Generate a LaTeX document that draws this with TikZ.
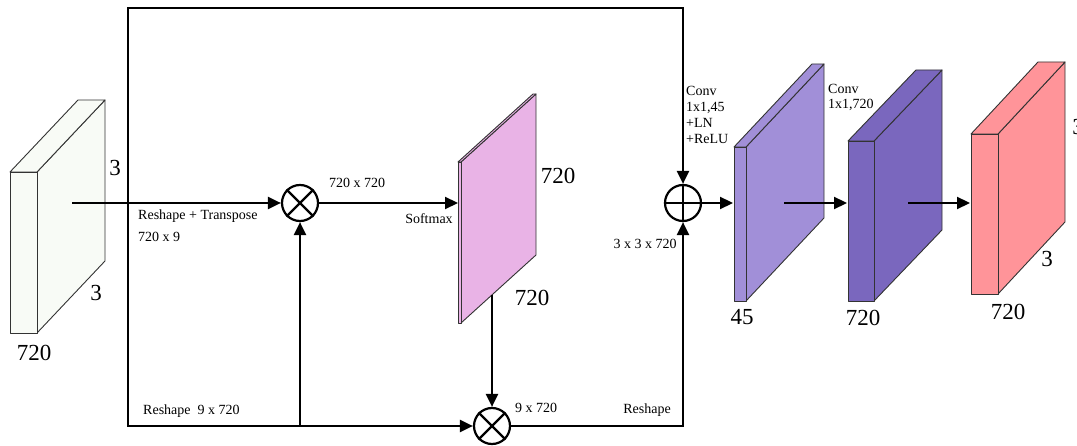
\documentclass[tikz,border=0pt]{standalone}
\usepackage{fontspec}
\setmainfont{Liberation Serif}
\usetikzlibrary{arrows.meta}
\definecolor{inbox}{RGB}{248,251,246}
\definecolor{pinkp}{RGB}{233,179,230}
\definecolor{purpA}{RGB}{161,143,216}
\definecolor{purpB}{RGB}{122,103,190}
\definecolor{redc}{RGB}{255,148,153}
\newcommand\prism[8]{%
  \filldraw[facel,fill=#8] ({#2+#4},#3) -- ++(#6,#7) -- ++(0,#5) -- ++(-#6,-#7) -- cycle;
  \filldraw[facel,fill=#8] (#2,#3) -- ++(#4,0) -- ++(#6,#7) -- ++(-#4,0) -- cycle;
  \node[facel,draw,fill=#8,inner sep=0pt,minimum width=#4pt,minimum height=#5pt,anchor=north west] (#1) at (#2,#3) {};
}
\tikzset{
  facel/.style={draw=black!80,line width=0.9pt,line join=round},
  wire/.style={line width=2.2pt,line join=miter},
  arr/.style={wire,-{Triangle[length=13pt,width=12pt]}},
  op/.style={circle,draw,line width=2.2pt,minimum size=36pt,inner sep=0pt},
  small/.style={font=\fontsize{14}{16}\selectfont,inner sep=0pt},
  big/.style={font=\fontsize{23}{26}\selectfont,inner sep=0pt}
}
\begin{document}
\begin{tikzpicture}[x=1pt,y=-1pt]
\useasboundingbox (0,0) rectangle (1077,446);
% input block
\prism{inb}{10}{172}{27}{161}{68}{-72}{inbox}
% pink attention map
\prism{att}{458}{162}{3}{161}{75}{-68}{pinkp}
% output cubes
\prism{c1}{734}{147}{12}{154}{78}{-83}{purpA}
\prism{c2}{848}{141}{26}{160}{68}{-71}{purpB}
\prism{c3}{971}{134}{27}{160}{67}{-72}{redc}

% operators
\node[op] (m1) at (300,203) {};
\draw[line width=2.2pt] (m1.north west) -- (m1.south east) (m1.north east) -- (m1.south west);
\node[op] (m2) at (492,426) {};
\draw[line width=2.2pt] (m2.north west) -- (m2.south east) (m2.north east) -- (m2.south west);
\node[op] (pl) at (683,203) {};
\draw[line width=2.2pt] (pl.north) -- (pl.south) (pl.west) -- (pl.east);

% coordinates
\coordinate (in) at (72,203);
\coordinate (s) at (128,203);
\coordinate (topR) at (683,8);
\coordinate (bj) at (300,426);
\coordinate (attin) at (458,203);
\coordinate (attout) at (492,295);
\coordinate (c1in) at (733,203);
\coordinate (c1out) at (784,203);
\coordinate (c2in) at (847,203);
\coordinate (c2out) at (908,203);
\coordinate (c3in) at (970,203);

% connectors
\draw[arr] (in) -- (m1.west);
\draw[arr] (s) |- (topR) -- (pl.north);
\draw[arr] (s) |- (m2.west);
\draw[arr] (bj) -- (m1.south);
\draw[arr] (m1.east) -- (attin);
\draw[arr] (attout) -- (m2.north);
\draw[arr] (m2.east) -| (pl.south);
\draw[arr] (pl.east) -- (c1in);
\draw[arr] (c1out) -- (c2in);
\draw[arr] (c2out) -- (c3in);

% labels
\node[big] (l1) at (115,168) {3};
\node[big] (l2) at (96,293) {3};
\node[big] (l3) at (34,353) {720};
\node[small,anchor=west] (t1) at (138,216) {Reshape + Transpose};
\node[small,anchor=west] (t2) at (138,237) {720 x 9};
\node[small] (t3) at (357,183) {720 x 720};
\node[small] (t4) at (429,219) {Softmax};
\node[big] (l4) at (558,176) {720};
\node[big] (l5) at (532,298) {720};
\node[small,anchor=west] (t5) at (143,411) {Reshape\ \ 9 x 720};
\node[small] (t6) at (536,408) {9 x 720};
\node[small] (t7) at (647,410) {Reshape};
\node[small] (t8) at (645,244) {3 x 3 x 720};
\node[small,anchor=north west,align=left] (t9) at (686,86) {Conv\\1x1,45\\+LN\\+ReLU};
\node[small,anchor=north west,align=left,font=\fontsize{14}{15}\selectfont] (t10) at (828,84) {Conv\\1x1,720};
\node[big] (l6) at (742,317) {45};
\node[big] (l7) at (863,318) {720};
\node[big] (l8) at (1008,312) {720};
\node[big] (l9) at (1047,259) {3};
\node[big] (l10) at (1078,127) {3};
\end{tikzpicture}
\end{document}
